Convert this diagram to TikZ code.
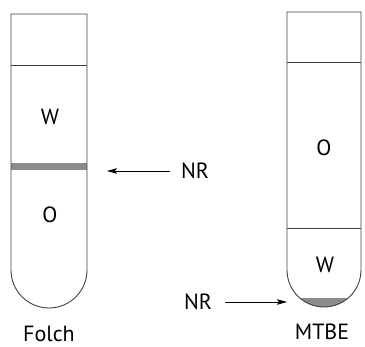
\documentclass[tikz,border=0pt]{standalone}
\usepackage{fontspec}
\setmainfont{PT Sans}
\usetikzlibrary{arrows.meta}
\begin{document}
\begin{tikzpicture}[x=1pt,y=-1pt,
  tube/.style={draw=black!75,line width=0.9pt},
  sep/.style={draw=black!75,line width=0.9pt},
  band/.style={fill=black!45},
  lbl/.style={font=\fontsize{22}{24}\selectfont,inner sep=0pt,anchor=base},
  arr/.style={-{Stealth[length=10pt,width=5.5pt,inset=2pt]},line width=0.8pt}]
\useasboundingbox (0,0) rectangle (365,347);
% Folch tube
\fill[band] (11,163) rectangle (87,170);
\draw[tube] (11,14) -- (11,270) arc[start angle=180,end angle=0,radius=38] -- (87,14) -- cycle;
\draw[sep] (11,65) -- (87,65);
\node[lbl] (fw) at (50,125) {W};
\node[lbl] (fo) at (50,223) {O};
\node[lbl] (folch) at (49,342) {Folch};
% MTBE tube
\begin{scope}
\clip (280,299) rectangle (365,320);
\fill[band] (287,270) arc[start angle=180,end angle=0,radius=37] -- cycle;
\end{scope}
\draw[tube] (287,12) -- (287,270) arc[start angle=180,end angle=0,radius=37] -- (361,12) -- cycle;
\draw[sep] (287,62) -- (361,62);
\draw[sep] (287,228) -- (361,228);
\node[lbl] (mo) at (324,156) {O};
\node[lbl] (mw) at (325,273) {W};
\node[lbl] (mtbe) at (322,340) {MTBE};
% NR labels and arrows
\node[lbl] (nr1) at (195,179) {NR};
\coordinate (t1) at (170,171);
\coordinate (h1) at (107,171);
\draw[arr] (t1) -- (h1);
\node[lbl] (nr2) at (198,310) {NR};
\coordinate (t2) at (225,302);
\coordinate (h2) at (287,302);
\draw[arr] (t2) -- (h2);
\end{tikzpicture}
\end{document}
